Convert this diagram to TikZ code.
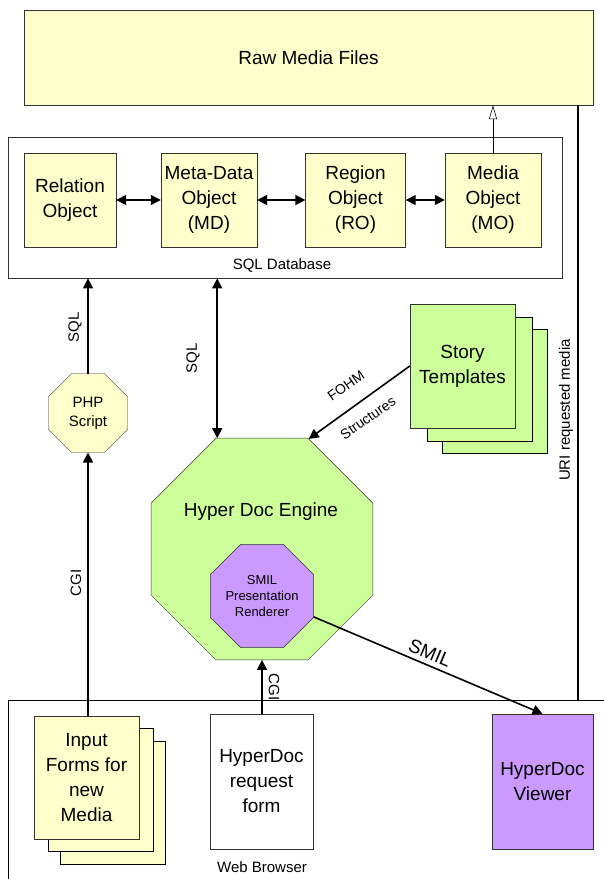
\documentclass[tikz,border=0pt]{standalone}
\usepackage{fontspec}
\setmainfont{Liberation Sans}
\usepackage{tikz}
\usetikzlibrary{positioning,shapes.geometric,arrows.meta,shadows}

\definecolor{fileyellow}{HTML}{FFFFCC}
\definecolor{enginegreen}{HTML}{CCFF99}
\definecolor{smilpurple}{HTML}{CC99FF}

\tikzset{
  box/.style={draw=black!80, fill=fileyellow, align=center, inner sep=0pt,
    font=\fontsize{19}{25}\selectfont},
  octo/.style={draw=black!80, regular polygon, regular polygon sides=8,
    inner sep=0pt, outer sep=0pt, align=center},
  link/.style={line width=1.6pt, -{Triangle[length=10pt,width=10pt]}},
  dlink/.style={line width=1.6pt,
    {Triangle[length=10pt,width=10pt]}-{Triangle[length=10pt,width=10pt]}},
  lbl/.style={font=\fontsize{15}{18}\selectfont},
}

\begin{document}
\begin{tikzpicture}[x=1pt,y=-1pt]
\useasboundingbox (0,0) rectangle (604,879);

% browser frame
\node[draw, minimum width=620pt, minimum height=200pt, anchor=north west] (web) at (8,700) {};
\node[lbl] (weblabel) at (262,867) {Web Browser};

% raw files and database
\node[box, minimum width=569pt, minimum height=95pt] (raw) at (308.5,57.5) {Raw Media Files};
\node[draw=black!80, minimum width=554pt, minimum height=141pt, anchor=north west] (db) at (8,137) {};
\node[lbl] (dblabel) at (282,265) {SQL Database};

\node[box, minimum width=92pt, minimum height=94pt] (rel) at (70,200) {Relation\\Object};
\node[box, minimum width=96pt, minimum height=94pt] (md) at (209,200) {Meta-Data\\Object\\(MD)};
\node[box, minimum width=100pt, minimum height=94pt] (ro) at (355.5,200) {Region\\Object\\(RO)};
\node[box, minimum width=96pt, minimum height=94pt] (mo) at (493,200) {Media\\Object\\(MO)};

\draw[dlink] (rel) -- (md);
\draw[dlink] (md) -- (ro);
\draw[dlink] (ro) -- (mo);
\draw[line width=0.6pt, -{Triangle[open,length=14pt,width=8pt]}] (mo.north) -- (mo.north |- raw.south);

% uri line
\draw[line width=1.6pt] ([xshift=-15pt]raw.south east) -- ([xshift=-15pt]raw.south east |- web.north);
\node[lbl, rotate=90] (urilabel) at (566,410) {URI requested media};

% php side
\node[octo, fill=fileyellow, minimum size=85.5pt, font=\fontsize{15}{19}\selectfont] (php) at (88,413) {PHP\\Script};
\draw[link] (php.north) -- (php.north |- db.south);
\node[lbl, rotate=90] (sqla) at (75,327) {SQL};

% engine
\node[octo, fill=enginegreen, minimum size=240pt] (engine) at (262,549) {};
\node[font=\fontsize{19}{25}\selectfont] (enginetitle) at (261,512) {Hyper Doc Engine};
\node[octo, fill=smilpurple, minimum size=103pt, font=\fontsize{13}{16}\selectfont] (smil) at (262,596) {SMIL\\Presentation\\Renderer};
\draw[dlink] (engine.112.5) -- (engine.112.5 |- db.south);
\node[lbl, rotate=90] (sqlb) at (193,358) {SQL};

% templates
\node[box, fill=enginegreen, minimum width=105pt, minimum height=124pt,
  copy shadow={shadow xshift=32pt, shadow yshift=-25pt, fill=enginegreen, draw=black},
  copy shadow={shadow xshift=17pt, shadow yshift=-13pt, fill=enginegreen, draw=black}] (story) at (462.5,366) {Story\\Templates};
\draw[link] (story.west) -- (engine.67.5);
\node[font=\fontsize{14}{16}\selectfont, rotate=35] (fohm) at (346,386) {FOHM};
\node[font=\fontsize{14}{16}\selectfont, rotate=35] (structs) at (368,418) {Structures};

% browser pages
\node[box, minimum width=105pt, minimum height=123pt,
  copy shadow={shadow xshift=26.5pt, shadow yshift=-25pt, fill=fileyellow, draw=black},
  copy shadow={shadow xshift=14pt, shadow yshift=-12pt, fill=fileyellow, draw=black}] (forms) at (86.5,777.5) {Input\\Forms for\\new\\Media};
\node[box, fill=white, minimum width=103pt, minimum height=135pt] (request) at (261.5,781.5) {HyperDoc\\request\\form};
\node[box, fill=smilpurple, minimum width=101pt, minimum height=135pt] (viewer) at (542.5,781.5) {HyperDoc\\Viewer};

\draw[link] (php.south |- forms.north) -- (php.south);
\node[lbl, rotate=90] (cgia) at (76,583) {CGI};
\draw[link] (engine.south |- request.north) -- (engine.south);
\node[lbl, rotate=-90] (cgib) at (274,687) {CGI};
\draw[link] (smil.-22.5) -- (viewer.north);
\node[font=\fontsize{19}{22}\selectfont, rotate=-22.6] (smillabel) at (430,653) {SMIL};
\end{tikzpicture}
\end{document}
